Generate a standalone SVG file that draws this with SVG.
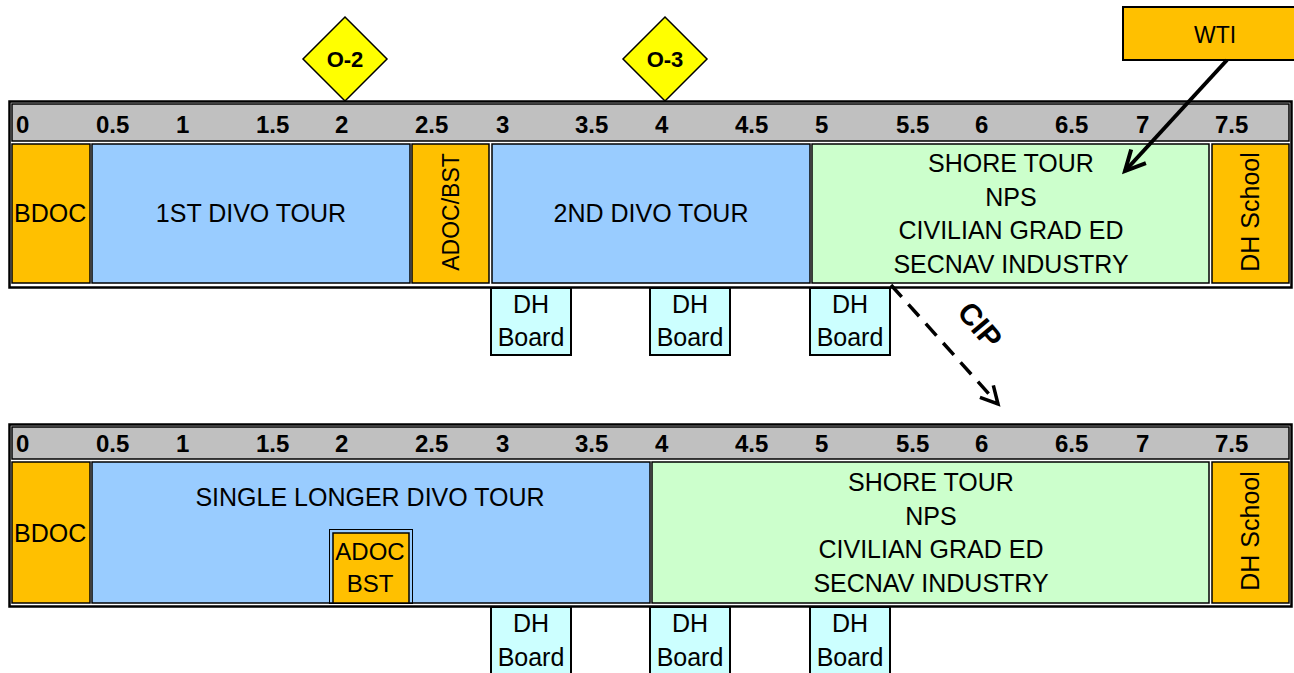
<svg xmlns="http://www.w3.org/2000/svg" width="1294" height="673" viewBox="0 0 1294 673">
<style>
text{font-family:"Liberation Sans",Arial,sans-serif;fill:#000}
.t{font-size:25px;text-anchor:middle}
.n{font-size:24px;font-weight:bold}
.b{stroke:#000;stroke-width:1.5}
.or{fill:#FFC000}
.bl{fill:#99CCFF}
.gr{fill:#CCFFCC}
.dh{fill:#CCFFFF;stroke:#000;stroke-width:2}
.frame{fill:#fff;stroke:#000;stroke-width:2.5}
.hdr{fill:#C0C0C0;stroke:#000;stroke-width:1.5}
.dia{fill:#FFFF00;stroke:#000;stroke-width:1.5}
</style>
<defs>
<marker id="ah" markerUnits="userSpaceOnUse" markerWidth="30" markerHeight="30" refX="22" refY="12" orient="auto" viewBox="0 0 30 24">
<path d="M2,2 L22,12 L2,22" fill="none" stroke="#000" stroke-width="4"/>
</marker>
<marker id="ah2" markerUnits="userSpaceOnUse" markerWidth="26" markerHeight="26" refX="19" refY="11" orient="auto" viewBox="0 0 26 22">
<path d="M2,2 L19,11 L2,20" fill="none" stroke="#000" stroke-width="3.5"/>
</marker>
</defs>

<!-- Top timeline -->
<g id="timeline1">
<rect class="frame" x="9.5" y="101.5" width="1282" height="186"/>
<rect class="hdr" x="12" y="104" width="1277" height="37"/>
<text x="16" y="133" class="n">0</text>
<text x="96" y="133" class="n">0.5</text>
<text x="176" y="133" class="n">1</text>
<text x="256" y="133" class="n">1.5</text>
<text x="335" y="133" class="n">2</text>
<text x="415" y="133" class="n">2.5</text>
<text x="496" y="133" class="n">3</text>
<text x="575" y="133" class="n">3.5</text>
<text x="655" y="133" class="n">4</text>
<text x="735" y="133" class="n">4.5</text>
<text x="815" y="133" class="n">5</text>
<text x="896" y="133" class="n">5.5</text>
<text x="975" y="133" class="n">6</text>
<text x="1055" y="133" class="n">6.5</text>
<text x="1136" y="133" class="n">7</text>
<text x="1215" y="133" class="n">7.5</text>
</g>
<g id="bdoc1"><rect class="or b" x="12" y="144" width="78" height="139"/><text x="14" y="222" style="font-size:25px">BDOC</text></g>
<g id="divo1"><rect class="bl b" x="92" y="144" width="318" height="139"/><text class="t" x="251" y="222">1ST DIVO TOUR</text></g>
<g id="adocbst1"><rect class="or b" x="412" y="144" width="77" height="139"/><text class="t" transform="translate(459,212) rotate(-90)" style="font-size:23px">ADOC/BST</text></g>
<g id="divo2"><rect class="bl b" x="492" y="144" width="318" height="139"/><text class="t" x="651" y="222">2ND DIVO TOUR</text></g>
<g id="shore1"><rect class="gr b" x="812" y="144" width="397" height="139"/>
<text class="t" x="1011" y="172">SHORE TOUR</text>
<text class="t" x="1011" y="206">NPS</text>
<text class="t" x="1011" y="239">CIVILIAN GRAD ED</text>
<text class="t" x="1011" y="273">SECNAV INDUSTRY</text></g>
<g id="dhschool1"><rect class="or b" x="1212" y="144" width="77" height="139"/><text class="t" transform="translate(1259,212) rotate(-90)">DH School</text></g>

<g id="dhboard1"><rect class="dh" x="491" y="288" width="80" height="67"/><text class="t" x="531" y="313">DH</text><text class="t" x="531" y="346">Board</text></g>
<g id="dhboard2"><rect class="dh" x="650" y="288" width="80" height="67"/><text class="t" x="690" y="313">DH</text><text class="t" x="690" y="346">Board</text></g>
<g id="dhboard3"><rect class="dh" x="810" y="288" width="80" height="67"/><text class="t" x="850" y="313">DH</text><text class="t" x="850" y="346">Board</text></g>

<g id="o2"><polygon class="dia" points="345,17 387,59 345,101 303,59"/><text x="345" y="67" style="font-size:22px;font-weight:bold;text-anchor:middle">O-2</text></g>
<g id="o3"><polygon class="dia" points="665,17 707,59 665,101 623,59"/><text x="665" y="67" style="font-size:22px;font-weight:bold;text-anchor:middle">O-3</text></g>

<g id="wti"><rect class="or" x="1123" y="7" width="180" height="53" stroke="#000" stroke-width="2"/><text x="1215" y="43" style="font-size:23px;text-anchor:middle">WTI</text></g>

<!-- Bottom timeline -->
<g id="timeline2">
<rect class="frame" x="9.5" y="424.5" width="1282" height="182"/>
<rect class="hdr" x="12" y="427" width="1277" height="32"/>
<text x="16" y="452" class="n">0</text>
<text x="96" y="452" class="n">0.5</text>
<text x="176" y="452" class="n">1</text>
<text x="256" y="452" class="n">1.5</text>
<text x="335" y="452" class="n">2</text>
<text x="415" y="452" class="n">2.5</text>
<text x="496" y="452" class="n">3</text>
<text x="575" y="452" class="n">3.5</text>
<text x="655" y="452" class="n">4</text>
<text x="735" y="452" class="n">4.5</text>
<text x="815" y="452" class="n">5</text>
<text x="896" y="452" class="n">5.5</text>
<text x="975" y="452" class="n">6</text>
<text x="1055" y="452" class="n">6.5</text>
<text x="1136" y="452" class="n">7</text>
<text x="1215" y="452" class="n">7.5</text>
</g>
<g id="bdoc2"><rect class="or b" x="12" y="462" width="78" height="141"/><text x="14" y="542" style="font-size:25px">BDOC</text></g>
<g id="divo3"><rect class="bl b" x="92" y="462" width="558" height="141"/><text class="t" x="370" y="506">SINGLE LONGER DIVO TOUR</text></g>
<g id="adocbst2"><rect x="329.5" y="529.5" width="83" height="74" fill="none" stroke="#000" stroke-width="1"/><rect class="or b" x="333" y="533" width="76" height="70"/><text class="t" x="370" y="560" style="font-size:24px">ADOC</text><text class="t" x="370" y="592" style="font-size:24px">BST</text></g>
<g id="shore2"><rect class="gr b" x="652" y="462" width="557" height="141"/>
<text class="t" x="931" y="491">SHORE TOUR</text>
<text class="t" x="931" y="525">NPS</text>
<text class="t" x="931" y="558">CIVILIAN GRAD ED</text>
<text class="t" x="931" y="592">SECNAV INDUSTRY</text></g>
<g id="dhschool2"><rect class="or b" x="1212" y="462" width="77" height="141"/><text class="t" transform="translate(1259,531) rotate(-90)">DH School</text></g>

<g id="dhboard4"><rect class="dh" x="491" y="607" width="80" height="80"/><text class="t" x="531" y="632">DH</text><text class="t" x="531" y="666">Board</text></g>
<g id="dhboard5"><rect class="dh" x="650" y="607" width="80" height="80"/><text class="t" x="690" y="632">DH</text><text class="t" x="690" y="666">Board</text></g>
<g id="dhboard6"><rect class="dh" x="810" y="607" width="80" height="80"/><text class="t" x="850" y="632">DH</text><text class="t" x="850" y="666">Board</text></g>

<g id="connectors">
<line x1="1227" y1="60" x2="1125" y2="171" stroke="#000" stroke-width="4" marker-end="url(#ah)"/>
<line x1="891" y1="285" x2="998" y2="404" stroke="#000" stroke-width="3.5" stroke-dasharray="16 10" marker-end="url(#ah2)"/>
<text transform="translate(972,332) rotate(50)" style="font-size:30px;font-weight:bold;text-anchor:middle">CIP</text>
</g>
</svg>
